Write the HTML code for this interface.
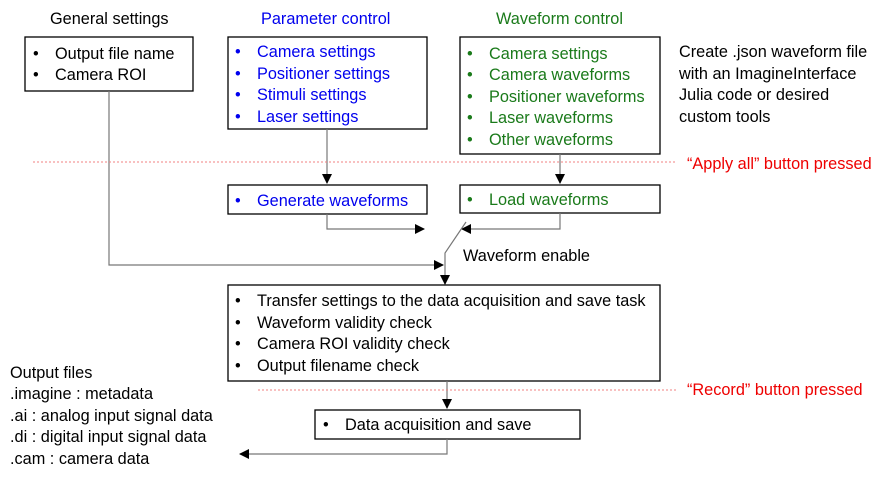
<!DOCTYPE html>
<html><head><meta charset="utf-8"><style>
html,body{margin:0;padding:0;background:#fff;}
text{font-family:"Liberation Sans",sans-serif;font-size:16.3px;}
</style></head><body>
<svg width="889" height="477" viewBox="0 0 889 477" xmlns="http://www.w3.org/2000/svg">
<defs><marker id="a" markerWidth="10" markerHeight="10" refX="9" refY="5" orient="auto" markerUnits="userSpaceOnUse"><path d="M0,0L10,5L0,10z" fill="#000"/></marker></defs>
<g fill="none" stroke="#000" stroke-width="1.3">
<rect x="25" y="37" width="168" height="54"/>
<rect x="228" y="37" width="199" height="92"/>
<rect x="460" y="37" width="200" height="117"/>
<rect x="228" y="185" width="199" height="29"/>
<rect x="460" y="185" width="200" height="28"/>
<rect x="228" y="285" width="432" height="96"/>
<rect x="315" y="410" width="265" height="29"/>
</g>
<g fill="none" stroke="#777" stroke-width="1.2">
<path d="M327,129V183" marker-end="url(#a)"/>
<path d="M560,154V183" marker-end="url(#a)"/>
<path d="M327,214V229H424" marker-end="url(#a)"/>
<path d="M560,213V229H462" marker-end="url(#a)"/>
<path d="M466,222L445,253V284" marker-end="url(#a)"/>
<path d="M109,91V265H443" marker-end="url(#a)"/>
<path d="M447,381V408" marker-end="url(#a)"/>
<path d="M447,439V454H240" marker-end="url(#a)"/>
</g>
<g stroke="#f08080" stroke-width="1" stroke-dasharray="2,2">
<line x1="33" y1="162" x2="676" y2="162"/>
<line x1="258" y1="390" x2="676" y2="390"/>
</g>
<text x="50" y="24">General settings</text>
<text x="261" y="24" fill="#0000ee">Parameter control</text>
<text x="496" y="24" fill="#1a7a1a">Waveform control</text>
<g>
<text x="33" y="59">•</text><text x="55" y="59">Output file name</text>
<text x="33" y="80">•</text><text x="55" y="80">Camera ROI</text>
</g>
<g fill="#0000ee">
<text x="235" y="57">•</text><text x="257" y="57">Camera settings</text>
<text x="235" y="79">•</text><text x="257" y="79">Positioner settings</text>
<text x="235" y="100">•</text><text x="257" y="100">Stimuli settings</text>
<text x="235" y="122">•</text><text x="257" y="122">Laser settings</text>
<text x="235" y="206">•</text><text x="257" y="206">Generate waveforms</text>
</g>
<g fill="#1a7a1a">
<text x="467" y="59">•</text><text x="489" y="59">Camera settings</text>
<text x="467" y="80">•</text><text x="489" y="80">Camera waveforms</text>
<text x="467" y="102">•</text><text x="489" y="102">Positioner waveforms</text>
<text x="467" y="123">•</text><text x="489" y="123">Laser waveforms</text>
<text x="467" y="145">•</text><text x="489" y="145">Other waveforms</text>
<text x="467" y="205">•</text><text x="489" y="205">Load waveforms</text>
</g>
<text x="679" y="57">Create .json waveform file</text>
<text x="679" y="79">with an ImagineInterface</text>
<text x="679" y="100">Julia code or desired</text>
<text x="679" y="122">custom tools</text>
<text x="687" y="169" fill="#ee0000">“Apply all” button pressed</text>
<text x="463" y="261">Waveform enable</text>
<text x="235" y="306">•</text><text x="257" y="306">Transfer settings to the data acquisition and save task</text>
<text x="235" y="328">•</text><text x="257" y="328">Waveform validity check</text>
<text x="235" y="349">•</text><text x="257" y="349">Camera ROI validity check</text>
<text x="235" y="371">•</text><text x="257" y="371">Output filename check</text>
<text x="687" y="395" fill="#ee0000">“Record” button pressed</text>
<text x="323" y="430">•</text><text x="345" y="430">Data acquisition and save</text>
<text x="10" y="378">Output files</text>
<text x="10" y="399">.imagine : metadata</text>
<text x="10" y="421">.ai : analog input signal data</text>
<text x="10" y="442">.di : digital input signal data</text>
<text x="10" y="464">.cam : camera data</text>
</svg>
</body></html>
